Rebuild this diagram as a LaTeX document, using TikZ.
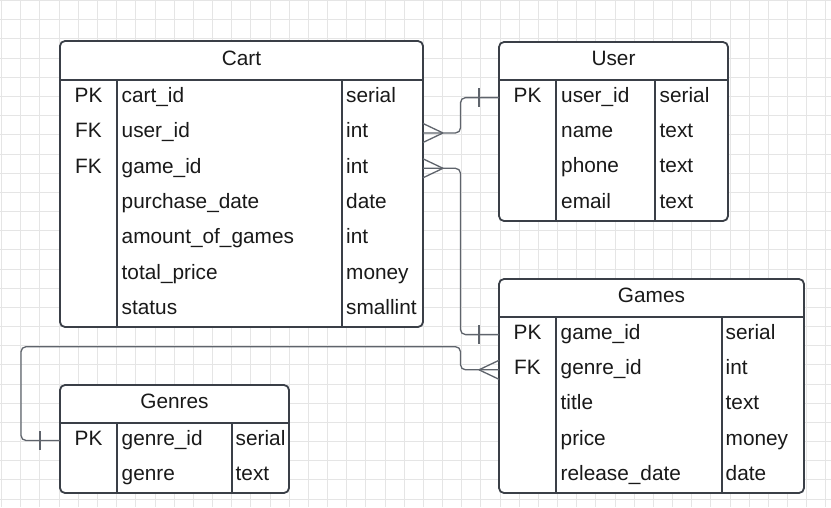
\documentclass[tikz,border=0pt]{standalone}
\usepackage{fontspec}
\setmainfont{Liberation Sans}
\definecolor{tblline}{RGB}{58,63,71}
\definecolor{connline}{RGB}{95,100,108}
\definecolor{gridline}{RGB}{229,229,229}
\definecolor{txt}{RGB}{25,25,25}
\begin{document}
\begin{tikzpicture}[x=1pt,y=-1pt,
  tbl/.style={draw=tblline, line width=1.8pt, fill=white, rounded corners=5pt, inner sep=0pt, outer sep=0pt, anchor=north west},
  sepline/.style={draw=tblline, line width=1.8pt},
  lbl/.style={inner sep=0pt, text=txt, font=\fontsize{20.8pt}{24pt}\selectfont},
  conn/.style={draw=connline, line width=1.3pt},
  route/.style={conn, rounded corners=5pt},
  gridl/.style={draw=gridline, line width=0.9pt}]
\useasboundingbox (0,0) rectangle (831,507);
\fill[white] (0,0) rectangle (831,507);
% background grid
\foreach \x in {1.6,20.77,...,831} \draw[gridl] (\x,0) -- (\x,507);
\foreach \y in {0.6,19.77,...,507} \draw[gridl] (0,\y) -- (831,\y);

% ---------- Cart ----------
\node[tbl, minimum width=363pt, minimum height=286pt] (cart) at (60,41) {};
\draw[sepline] (cart.west |- 0,80) -- (cart.east |- 0,80);
\draw[sepline] (117,80) -- (117,327);
\draw[sepline] (342,80) -- (342,327);
\node[lbl, anchor=base] (cart-h) at (241.5,65.2) {Cart};
\foreach \n/\t [count=\i] in {cart\_id/serial, user\_id/int, game\_id/int, purchase\_date/date, amount\_of\_games/int, total\_price/money, status/smallint}{
  \pgfmathsetmacro\yc{80+35.32*(\i-0.5)}
  \coordinate (cart-r\i) at (60,\yc);
  \node[lbl, anchor=base west] (cart-n\i) at (121.5,\yc+4.8) {\n};
  \node[lbl, anchor=base west] (cart-t\i) at (346,\yc+4.8) {\t};
}
\node[lbl, anchor=base] (cart-k1) at (88.5,97.66+4.8) {PK};
\node[lbl, anchor=base] (cart-k2) at (88.5,132.98+4.8) {FK};
\node[lbl, anchor=base] (cart-k3) at (88.5,168.3+4.8) {FK};

% ---------- User ----------
\node[tbl, minimum width=229pt, minimum height=179pt] (user) at (499,42) {};
\draw[sepline] (user.west |- 0,80) -- (user.east |- 0,80);
\draw[sepline] (556,80) -- (556,221);
\draw[sepline] (655,80) -- (655,221);
\node[lbl, anchor=base] (user-h) at (613.5,65.5) {User};
\foreach \n/\t [count=\i] in {user\_id/serial, name/text, phone/text, email/text}{
  \pgfmathsetmacro\yc{80+35.25*(\i-0.5)}
  \coordinate (user-r\i) at (499,\yc);
  \node[lbl, anchor=base west] (user-n\i) at (561,\yc+4.8) {\n};
  \node[lbl, anchor=base west] (user-t\i) at (659.5,\yc+4.8) {\t};
}
\node[lbl, anchor=base] (user-k1) at (527.5,97.6+4.8) {PK};

% ---------- Games ----------
\node[tbl, minimum width=305pt, minimum height=214pt] (games) at (499,279) {};
\draw[sepline] (games.west |- 0,317) -- (games.east |- 0,317);
\draw[sepline] (556,317) -- (556,493);
\draw[sepline] (722,317) -- (722,493);
\node[lbl, anchor=base] (games-h) at (651.5,302.7) {Games};
\foreach \n/\t [count=\i] in {game\_id/serial, genre\_id/int, title/text, price/money, release\_date/date}{
  \pgfmathsetmacro\yc{317+35.2*(\i-0.5)}
  \coordinate (games-r\i) at (499,\yc);
  \node[lbl, anchor=base west] (games-n\i) at (560.5,\yc+4.8) {\n};
  \node[lbl, anchor=base west] (games-t\i) at (725.5,\yc+4.8) {\t};
}
\node[lbl, anchor=base] (games-k1) at (527.5,334.6+4.8) {PK};
\node[lbl, anchor=base] (games-k2) at (527.5,369.8+4.8) {FK};

% ---------- Genres ----------
\node[tbl, minimum width=229pt, minimum height=108pt] (genres) at (60,385) {};
\draw[sepline] (genres.west |- 0,423) -- (genres.east |- 0,423);
\draw[sepline] (117,423) -- (117,493);
\draw[sepline] (232,423) -- (232,493);
\node[lbl, anchor=base] (genres-h) at (174.5,408.7) {Genres};
\foreach \n/\t [count=\i] in {genre\_id/serial, genre/text}{
  \pgfmathsetmacro\yc{423+35*(\i-0.5)}
  \coordinate (genres-r\i) at (60,\yc);
  \node[lbl, anchor=base west] (genres-n\i) at (121.5,\yc+4.8) {\n};
  \node[lbl, anchor=base west] (genres-t\i) at (235.5,\yc+4.8) {\t};
}
\node[lbl, anchor=base] (genres-k1) at (88.5,440.5+4.8) {PK};

% ---------- Connectors ----------
\coordinate (laneA) at (460.5,0);
\coordinate (laneB) at (460.5,346.7);
\coordinate (laneC) at (21,346.7);

% Cart.user_id >--| User.user_id
\draw[route] (cart.east |- cart-r2) -- (laneA |- cart-r2) -- (laneA |- user-r1) -- (user.west |- user-r1);
\draw[conn] (cart.east |- cart-r2) ++(20,0) coordinate (cf1) -- ++(-20,-9.5) (cf1) -- ++(-20,9.5);
\draw[conn] (user.west |- user-r1) ++(-20,-9.5) -- ++(0,19);

% Cart.game_id >--| Games.game_id
\draw[route] (cart.east |- cart-r3) -- (laneA |- cart-r3) -- (laneA |- games-r1) -- (games.west |- games-r1);
\draw[conn] (cart.east |- cart-r3) ++(20,0) coordinate (cf2) -- ++(-20,-9.5) (cf2) -- ++(-20,9.5);
\draw[conn] (games.west |- games-r1) ++(-20,-9.5) -- ++(0,19);

% Games.genre_id >--| Genres.genre_id
\draw[route] (games.west |- games-r2) -- (laneB |- games-r2) -- (laneB) -- (laneC) -- (laneC |- genres-r1) -- (genres.west |- genres-r1);
\draw[conn] (games.west |- games-r2) ++(-20,0) coordinate (cf3) -- ++(20,-9.5) (cf3) -- ++(20,9.5);
\draw[conn] (genres.west |- genres-r1) ++(-20,-9.5) -- ++(0,19);
\end{tikzpicture}
\end{document}
